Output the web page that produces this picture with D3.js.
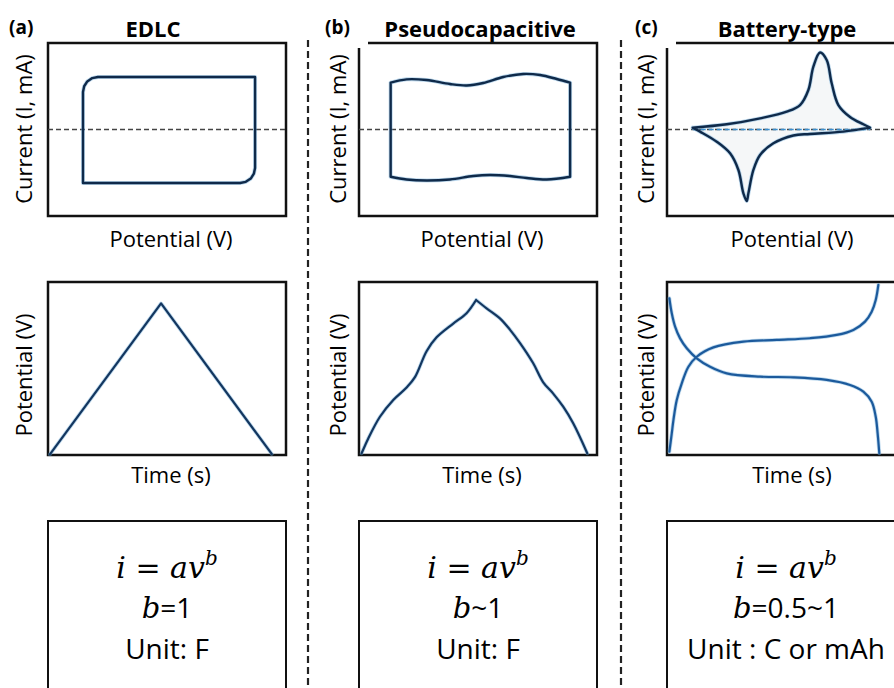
<!DOCTYPE html>
<html lang="en">
  <head>
    <meta charset="utf-8" />
    <script src="https://d3js.org/d3.v7.min.js"></script>
    <style>
      body {
        margin: 0;
        background-color: #fff;
      }
      text {
        font-family: "Open Sans", sans-serif;
        fill: #000;
      }
      .frame {
        fill: none;
        stroke: #111;
        stroke-width: 2.5px;
      }
      .zero {
        stroke: #444;
        stroke-width: 1.6px;
        stroke-dasharray: 5 3;
      }
      .sep {
        stroke: #222;
        stroke-width: 2.2px;
        stroke-dasharray: 7 4;
      }
      .math {
        font-family: "DejaVu Serif", serif;
        font-style: italic;
      }
    </style>
  </head>
  <body>
    <div id="chart"></div>

    <script>
      const width = 894;
      const height = 688;

      // panel headings and labels
      const panelTags = ["(a)", "(b)", "(c)"];
      const panelTitles = ["EDLC", "Pseudocapacitive", "Battery-type"];
      const cvLabels = ["Current (I, mA)", "Potential (V)"];
      const gcdLabels = ["Potential (V)", "Time (s)"];
      const bRelations = ["=1", "~1", "=0.5~1"];
      const unitLabels = ["Unit: F", "Unit: F", "Unit : C or mAh"];

      // CV curves: [potential (0..1 of window), current (-1..1)]
      const cvEdlc = [
        [0.147, -0.618], [0.147, 0.434], [0.152, 0.5], [0.165, 0.556],
        [0.186, 0.594], [0.21, 0.607], [0.87, 0.607], [0.87, -0.445],
        [0.865, -0.511], [0.852, -0.567], [0.831, -0.605], [0.807, -0.618],
        [0.147, -0.618]
      ];
      const cvPseudoTop = [
        [0.133, 0.541], [0.2, 0.58], [0.284, 0.572], [0.382, 0.526],
        [0.453, 0.509], [0.522, 0.538], [0.606, 0.607], [0.69, 0.642],
        [0.761, 0.63], [0.831, 0.584], [0.887, 0.541]
      ];
      const cvPseudoBottom = [
        [0.133, -0.546], [0.2, -0.578], [0.284, -0.59], [0.382, -0.578],
        [0.48, -0.538], [0.55, -0.526], [0.634, -0.538], [0.705, -0.561],
        [0.789, -0.578], [0.887, -0.546]
      ];
      const cvBatteryAnodic = [
        [0.108, 0.021], [0.251, 0.06], [0.391, 0.129], [0.503, 0.206],
        [0.559, 0.283], [0.594, 0.457], [0.615, 0.726], [0.643, 0.89],
        [0.671, 0.803], [0.692, 0.534], [0.72, 0.283], [0.769, 0.145],
        [0.825, 0.06], [0.853, 0.021]
      ];
      const cvBatteryCathodic = [
        [0.853, 0.021], [0.741, -0.025], [0.601, -0.052], [0.531, -0.069],
        [0.447, -0.16], [0.391, -0.295], [0.363, -0.468], [0.342, -0.738],
        [0.335, -0.827], [0.321, -0.738], [0.3, -0.468], [0.265, -0.275],
        [0.209, -0.141], [0.139, -0.025], [0.108, 0.021]
      ];

      // GCD curves: [time (0..1), potential (0..1)]
      const gcdEdlc = [[0.008, 0.004], [0.475, 0.876], [0.94, 0.006]];
      const gcdPseudoCharge = [
        [0.011, 0.01], [0.039, 0.096], [0.088, 0.221], [0.144, 0.318],
        [0.2, 0.39], [0.235, 0.45], [0.284, 0.6], [0.326, 0.68],
        [0.396, 0.76], [0.452, 0.82], [0.492, 0.896]
      ];
      const gcdPseudoDischarge = [
        [0.492, 0.896], [0.536, 0.848], [0.592, 0.79], [0.634, 0.725],
        [0.676, 0.648], [0.732, 0.53], [0.774, 0.42], [0.816, 0.355],
        [0.858, 0.279], [0.9, 0.183], [0.959, 0.01]
      ];
      const gcdBatteryCharge = [
        [0.01, 0.019], [0.02, 0.125], [0.027, 0.202], [0.041, 0.318],
        [0.062, 0.414], [0.09, 0.51], [0.125, 0.568], [0.195, 0.622],
        [0.321, 0.655], [0.461, 0.665], [0.601, 0.675], [0.713, 0.694],
        [0.783, 0.723], [0.832, 0.771], [0.86, 0.828], [0.877, 0.896],
        [0.888, 0.983]
      ];
      const gcdBatteryDischarge = [
        [0.01, 0.906], [0.02, 0.819], [0.034, 0.742], [0.055, 0.674],
        [0.083, 0.617], [0.125, 0.559], [0.181, 0.51], [0.251, 0.472],
        [0.391, 0.453], [0.531, 0.449], [0.671, 0.434], [0.769, 0.405],
        [0.825, 0.366], [0.86, 0.308], [0.877, 0.221], [0.885, 0.125],
        [0.892, 0.01]
      ];

      // layout
      const colLeft = [48, 359, 667];
      const colCenter = [171, 482, 792];
      const tagX = [9, 325, 635];
      const titleX = [153, 480, 787];
      const yLabelX = [32, 346, 654];
      const panelW = 238;
      const sepX = [308, 621];

      const svg = d3
        .select("#chart")
        .append("svg")
        .attr("width", width)
        .attr("height", height);

      const yCV = d3.scaleLinear().domain([-1, 1]).range([216, 43]);
      const yGCD = d3.scaleLinear().domain([0, 1]).range([455, 282]);

      const cvColor = "#0f2a4a";
      const gcdColors = ["#13365f", "#13365f", "#1c5a9c"];

      // separators
      sepX.forEach((x) => {
        svg.append("line").attr("class", "sep")
          .attr("x1", x).attr("x2", x).attr("y1", 40).attr("y2", height);
      });

      function frame(i, top, bottom) {
        const x0 = colLeft[i];
        const x1 = x0 + panelW;
        if (i === 0 || top > 100) {
          svg.append("rect").attr("class", "frame")
            .attr("x", x0).attr("y", top)
            .attr("width", panelW).attr("height", bottom - top);
        } else {
          // top line doubles as the title underline
          svg.append("path").attr("class", "frame")
            .attr("d", `M${x0 + 9},${top}H${x1}V${bottom}H${x0}V${top + 5}`);
        }
      }

      function smooth(xs, ys) {
        return d3.line()
          .x((d) => xs(d[0]))
          .y((d) => ys(d[1]))
          .curve(d3.curveCatmullRom.alpha(0.5));
      }
      function straight(xs, ys) {
        return d3.line().x((d) => xs(d[0])).y((d) => ys(d[1]));
      }

      function curve(d, color, w) {
        svg.append("path")
          .attr("d", d)
          .attr("fill", "none")
          .attr("stroke", "#6aa8d8")
          .attr("stroke-opacity", 0.45)
          .attr("stroke-width", w + 1.6)
          .attr("stroke-linejoin", "round")
          .attr("stroke-linecap", "round");
        svg.append("path")
          .attr("d", d)
          .attr("fill", "none")
          .attr("stroke", color)
          .attr("stroke-width", w)
          .attr("stroke-linejoin", "round")
          .attr("stroke-linecap", "round");
      }

      for (let i = 0; i < 3; i++) {
        const x = d3.scaleLinear().domain([0, 1]).range([colLeft[i], colLeft[i] + panelW]);

        // headings
        svg.append("text").attr("x", tagX[i]).attr("y", 34)
          .style("font-size", "19px").style("font-weight", 700)
          .text(panelTags[i]);
        svg.append("text").attr("x", titleX[i]).attr("y", 37)
          .attr("text-anchor", "middle")
          .style("font-size", "22px").style("font-weight", 700)
          .text(panelTitles[i]);

        // --- CV panel
        frame(i, 43, 216);
        if (i === 2) {
          svg.append("path")
            .attr("d", smooth(x, yCV)(cvBatteryAnodic.concat(cvBatteryCathodic.slice(1))) + "Z")
            .attr("fill", "#f5f7f8");
        }
        svg.append("line").attr("class", "zero")
          .attr("x1", colLeft[i]).attr("x2", colLeft[i] + panelW)
          .attr("y1", yCV(0)).attr("y2", yCV(0));
        if (i === 2) {
          svg.append("line").attr("class", "zero")
            .style("stroke", "#3a8fd0")
            .attr("x1", x(cvBatteryAnodic[0][0])).attr("x2", x(cvBatteryAnodic[cvBatteryAnodic.length - 1][0]))
            .attr("y1", yCV(0)).attr("y2", yCV(0));
        }

        if (i === 0) {
          curve(straight(x, yCV)(cvEdlc), cvColor, 2.4);
        } else if (i === 1) {
          const top = cvPseudoTop, bot = cvPseudoBottom;
          const edges =
            straight(x, yCV)([top[top.length - 1], bot[bot.length - 1]]) +
            straight(x, yCV)([bot[0], top[0]]);
          curve(smooth(x, yCV)(top) + smooth(x, yCV)(bot) + edges, cvColor, 2.4);
        } else {
          curve(smooth(x, yCV)(cvBatteryAnodic) + smooth(x, yCV)(cvBatteryCathodic), cvColor, 2.4);
        }

        svg.append("text")
          .attr("transform", `translate(${yLabelX[i]},129) rotate(-90)`)
          .attr("text-anchor", "middle")
          .style("font-size", "22px")
          .text(cvLabels[0]);
        svg.append("text")
          .attr("x", colCenter[i]).attr("y", 247)
          .attr("text-anchor", "middle")
          .style("font-size", "22px")
          .text(cvLabels[1]);

        // --- GCD panel
        frame(i, 282, 455);
        if (i === 0) {
          curve(straight(x, yGCD)(gcdEdlc), gcdColors[i], 2.2);
        } else if (i === 1) {
          curve(smooth(x, yGCD)(gcdPseudoCharge) + smooth(x, yGCD)(gcdPseudoDischarge), gcdColors[i], 2.2);
        } else {
          curve(smooth(x, yGCD)(gcdBatteryCharge) + smooth(x, yGCD)(gcdBatteryDischarge), gcdColors[i], 2.2);
        }
        svg.append("text")
          .attr("transform", `translate(${yLabelX[i]},375) rotate(-90)`)
          .attr("text-anchor", "middle")
          .style("font-size", "22px")
          .text(gcdLabels[0]);
        svg.append("text")
          .attr("x", colCenter[i]).attr("y", 483)
          .attr("text-anchor", "middle")
          .style("font-size", "22px")
          .text(gcdLabels[1]);

        // --- summary box
        svg.append("rect").attr("class", "frame")
          .attr("x", colLeft[i]).attr("y", 521)
          .attr("width", panelW).attr("height", 200)
          .style("stroke-width", "2px");
        const cx = colLeft[i] + panelW / 2;

        const f = svg.append("text").attr("x", cx).attr("y", 578)
          .attr("text-anchor", "middle").style("font-size", "30px");
        f.append("tspan").attr("class", "math").text("i");
        f.append("tspan").style("font-family", "DejaVu Serif").text(" = ");
        f.append("tspan").attr("class", "math").text("av");
        f.append("tspan").attr("class", "math").attr("dy", -13)
          .style("font-size", "20px").text("b");

        const b = svg.append("text").attr("x", cx).attr("y", 618)
          .attr("text-anchor", "middle").style("font-size", "28px");
        b.append("tspan").attr("class", "math").style("font-size", "29px").text("b");
        b.append("tspan").text(bRelations[i]);

        svg.append("text").attr("x", cx).attr("y", 659)
          .attr("text-anchor", "middle").style("font-size", "28px")
          .text(unitLabels[i]);
      }
    </script>
  </body>
</html>
